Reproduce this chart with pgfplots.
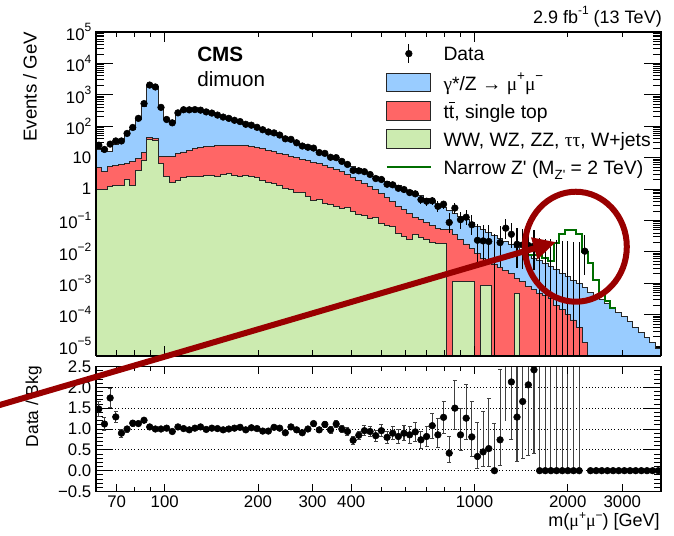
\documentclass[border=0pt]{standalone}
\usepackage{pgfplots}
\pgfplotsset{compat=1.18}
\usepackage{pgfplotstable}
\usetikzlibrary{arrows.meta}
\usepackage{fontspec}
\setmainfont{Liberation Sans}
\newfontfamily\symf{Liberation Serif}

\definecolor{dyblue}{RGB}{153,204,255}
\definecolor{ttred}{RGB}{255,102,102}
\definecolor{ewkgreen}{RGB}{204,235,176}
\definecolor{zpgreen}{RGB}{0,110,0}
\definecolor{annred}{RGB}{153,0,0}

\newcommand\sups[2][9]{\raisebox{0.5em}{\fontsize{#1}{#1}\selectfont #2}}
\newcommand\lsups[1]{\raisebox{0.38em}{\fontsize{9}{9}\selectfont #1}}
\newcommand\subs[2][10]{\raisebox{-0.3em}{\fontsize{#1}{#1}\selectfont #2}}
\newcommand\ttbar{t\makebox[0pt][l]{\raisebox{0.76em}{\rule{0.3em}{0.06em}}}t}
\newcommand\tickfont{\fontsize{12.6}{14}\selectfont}

% stacked levels: G = other, R = other+ttbar, B = total (left bin edges)
\pgfplotstableread{
lo G R B
60.00 1e-7 1e-7 1e-7
60.00 0.955 4.73 18.6
62.57 0.977 3.55 15.85
65.26 1.175 5.25 15.5
68.06 1.318 5.75 26.3
70.98 1.318 6.03 37.2
74.02 2.042 6.31 58.9
77.20 1.318 7.59 79.4
80.51 3.80 9.55 158.5
83.96 8.32 14.1 436.5
87.56 38.0 42.7 1950
91.32 35.5 39.8 1778
95.24 6.46 11.2 398
99.32 2.455 10.5 158.5
103.58 1.622 11.2 134.9
108.03 1.905 13.5 251.2
112.66 2.344 15.1 331.1
117.50 2.512 17.4 338.8
122.54 2.570 19.1 331.1
127.79 2.512 20.9 309.0
133.28 2.630 22.4 288.4
138.99 2.692 23.4 257.0
144.96 2.570 24.5 223.9
151.18 2.818 25.1 199.5
157.66 3.162 25.1 177.8
164.43 2.630 25.1 151.4
171.48 2.570 25.1 134.9
178.84 2.754 24.0 117.5
186.51 2.512 22.4 104.7
194.51 2.291 20.9 91.2
202.86 1.905 19.1 81.3
211.56 1.660 17.4 69.2
220.64 1.514 15.5 58.9
230.10 1.259 13.8 51.3
239.97 1.047 12.3 43.65
250.27 0.933 11.0 36.3
261.01 0.759 9.77 30.2
272.20 0.794 8.91 25.7
283.88 0.562 7.94 21.4
296.06 0.417 7.08 17.8
308.76 0.468 6.31 14.8
322.01 0.355 5.75 12.3
335.82 0.316 4.90 10.47
350.23 0.282 4.17 8.91
365.26 0.240 3.55 7.59
380.93 0.251 2.88 6.46
397.27 0.191 2.40 5.37
414.31 0.158 1.905 4.47
432.09 0.141 1.514 3.72
450.62 0.112 1.175 3.09
469.96 0.126 0.933 2.57
490.12 0.0794 0.708 2.09
511.15 0.0708 0.537 1.778
533.08 0.0631 0.398 1.514
555.95 0.0380 0.282 1.288
579.80 0.0316 0.224 1.072
604.67 0.0251 0.166 0.891
630.61 0.0355 0.126 0.741
657.67 0.0282 0.105 0.603
685.88 0.0251 0.0832 0.490
715.31 0.0200 0.0708 0.398
746.00 0.0186 0.0562 0.316
778.00 0.0186 0.0525 0.257
811.38 1e-7 0.0501 0.209
846.19 0.00112 0.0355 0.166
882.49 0.00112 0.0251 0.132
920.35 0.00112 0.0178 0.105
959.84 0.00112 0.0126 0.0832
1001.02 1e-7 0.00891 0.0661
1043.96 0.00087 0.00631 0.0525
1088.75 0.00087 0.00501 0.0407
1135.46 1e-7 0.00398 0.0331
1184.17 1e-7 0.00316 0.0269
1234.97 1e-7 0.00251 0.0214
1287.95 1e-7 0.00200 0.0170
1343.21 0.000479 0.00141 0.0135
1400.83 1e-7 0.00112 0.0100
1460.93 1e-7 0.000794 0.00776
1523.61 1e-7 0.000631 0.00631
1588.97 1e-7 0.000479 0.00513
1657.14 1e-7 0.000398 0.00417
1728.23 1e-7 0.000316 0.00339
1802.37 1e-7 0.000200 0.00269
1879.70 1e-7 0.000141 0.00209
1960.34 1e-7 0.000100 0.00162
2044.44 1e-7 0.0000676 0.00126
2132.15 1e-7 0.0000398 0.000955
2223.62 1e-7 0.0000126 0.000708
2319.02 1e-7 0.0000025 0.000525
2418.51 1e-7 1e-7 0.000389
2522.26 1e-7 1e-7 0.000295
2630.47 1e-7 1e-7 0.000224
2743.32 1e-7 1e-7 0.000162
2861.01 1e-7 1e-7 0.000117
2983.75 1e-7 1e-7 0.0000851
3111.76 1e-7 1e-7 0.0000589
3245.26 1e-7 1e-7 0.0000398
3384.48 1e-7 1e-7 0.0000269
3529.68 1e-7 1e-7 0.0000186
3681.11 1e-7 1e-7 0.0000126
3839.04 1e-7 1e-7 0.0000085
4003.74 1e-7 1e-7 0.0000085
4003.74 1e-7 1e-7 1e-7
}\histtab

% narrow Z' (stacked on background)
\pgfplotstableread{
lo S
1460.93 0.00776
1523.61 0.00794
1588.97 0.00832
1657.14 0.00631
1728.23 0.00525
1802.37 0.0186
1879.70 0.0380
1960.34 0.0513
2044.44 0.0513
2132.15 0.0380
2223.62 0.0100
2319.02 0.00427
2418.51 0.00126
2522.26 0.000479
2630.47 0.000282
2743.32 0.000162
2861.01 0.000162
}\zptab

% data (events / GeV) with errors
\pgfplotstableread{
lo D dm dp
60.00 24.9 0 0
62.57 18.2 0 0
65.26 26.9 0 0
68.06 33.9 0 0
70.98 33.9 0 0
74.02 58.9 0 0
77.20 91.2 0 0
80.51 177.8 0 0
83.96 524.8 0 0
87.56 2042 0 0
91.32 1778 0 0
95.24 398 0 0
99.32 164 0 0
103.58 128 0 0
108.03 266 0 0
112.66 334.4 0 0
117.50 332.0 0 0
122.54 337.7 0 0
127.79 324.5 0 0
133.28 285.5 0 0
138.99 262.1 0 0
144.96 226.1 0 0
151.18 195.5 0 0
157.66 177.8 0 0
164.43 154.4 0 0
171.48 140.3 0 0
178.84 115.2 0 0
186.51 107.8 0 0
194.51 92.1 0 0
202.86 77.2 0 0
211.56 65.7 0 0
220.64 61.3 0 0
230.10 52.3 0 0
239.97 39.7 0 0
250.27 38.1 0 0
261.01 29.6 0 0
272.20 23.4 0 0
283.88 21.4 0 0
296.06 20.1 0 0
308.76 14.5 0 0
322.01 13.65 0.99 0.99
335.82 10.26 0.844 0.844
350.23 9.98 0.815 0.815
365.26 7.59 0.696 0.696
380.93 6.07 0.609 0.609
397.27 3.92 0.48 0.48
414.31 3.80 0.462 0.462
432.09 3.57 0.438 0.438
450.62 2.90 0.387 0.387
469.96 2.16 0.327 0.327
490.12 2.01 0.309 0.309
511.15 1.42 0.254 0.254
533.08 1.363 0.243 0.243
555.95 1.056 0.21 0.21
579.80 0.965 0.197 0.197
604.67 0.772 0.173 0.173
630.61 0.702 0.161 0.161
657.67 0.461 0.128 0.128
685.88 0.408 0.118 0.118
715.31 0.423 0.118 0.118
746.00 0.281 0.0947 0.127
778.00 0.329 0.0993 0.0993
811.38 0.0862 0.0469 0.0838
846.19 0.248 0.0835 0.1118
882.49 0.1055 0.0505 0.0835
920.35 0.1266 0.0547 0.0856
959.84 0.0728 0.0396 0.0708
1001.02 0.0233 0.0193 0.0536
1043.96 0.0223 0.01846 0.0513
1088.75 0.0214 0.0177 0.0493
1184.17 0.01969 0.01628 0.0453
1234.97 0.0566 0.0308 0.0551
1287.95 0.0362 0.02338 0.04775
1343.21 0.01736 0.01436 0.0399
1400.83 0.01664 0.01376 0.0383
1460.93 0.01595 0.01319 0.0367
1523.61 0.01529 0.01265 0.0352
2223.62 0.01048 0.00867 0.0241
}\datatab

% empty bins: upper error only
\pgfplotstableread{
lo y top
1135.46 1e-7 0.0378
1588.97 1e-7 0.0270
1657.14 1e-7 0.0259
1728.23 1e-7 0.0248
1802.37 1e-7 0.0238
1879.70 1e-7 0.0228
1960.34 1e-7 0.0219
2044.44 1e-7 0.0210
2132.15 1e-7 0.0201
}\zerotab

% ratio data / background
\pgfplotstableread{
lo r rm rp
60.00 1.48 0.18 0.18
62.57 1.12 0.16 0.16
65.26 1.745 0.22 0.22
68.06 1.29 0.13 0.13
70.98 0.90 0.09 0.09
74.02 1.0 0.07 0.07
77.20 1.14 0.066 0.066
80.51 1.13 0.04 0.04
83.96 1.21 0.04 0.04
87.56 1.05 0.03 0.03
91.32 1.0 0.03 0.03
95.24 1.0 0.04 0.04
99.32 1.02 0.04 0.04
103.58 0.94 0.04 0.04
108.03 1.05 0.04 0.04
112.66 1.01 0.04 0.04
117.50 0.98 0.04 0.04
122.54 1.02 0.04 0.04
127.79 1.05 0.04 0.04
133.28 0.99 0.04 0.04
138.99 1.02 0.04 0.04
144.96 1.01 0.04 0.04
151.18 0.98 0.04 0.04
157.66 1.0 0.04 0.04
164.43 1.02 0.04 0.04
171.48 1.04 0.04 0.04
178.84 0.98 0.04 0.04
186.51 1.03 0.04 0.04
194.51 1.01 0.04 0.04
202.86 0.95 0.04 0.04
211.56 0.95 0.04 0.04
220.64 1.04 0.04 0.04
230.10 1.02 0.04 0.04
239.97 0.91 0.04 0.04
250.27 1.05 0.05 0.05
261.01 0.98 0.05 0.05
272.20 0.91 0.05 0.05
283.88 1.0 0.05 0.05
296.06 1.13 0.06 0.06
308.76 0.98 0.06 0.06
322.01 1.11 0.08 0.08
335.82 0.98 0.081 0.081
350.23 1.12 0.091 0.091
365.26 1.0 0.092 0.092
380.93 0.94 0.094 0.094
397.27 0.73 0.089 0.089
414.31 0.85 0.103 0.103
432.09 0.96 0.118 0.118
450.62 0.94 0.125 0.125
469.96 0.84 0.127 0.127
490.12 0.96 0.148 0.148
511.15 0.80 0.143 0.143
533.08 0.90 0.16 0.16
555.95 0.82 0.163 0.163
579.80 0.90 0.184 0.184
604.67 0.86 0.194 0.194
630.61 0.93 0.217 0.217
657.67 0.74 0.212 0.212
685.88 0.82 0.241 0.241
715.31 1.08 0.296 0.296
746.00 0.86 0.30 0.40
778.00 1.28 0.386 0.386
811.38 0.42 0.224 0.40
846.19 1.50 0.503 0.673
882.49 0.86 0.383 0.633
920.35 1.26 0.521 0.815
959.84 0.81 0.476 0.851
1001.02 0.34 0.292 0.811
1043.96 0.45 0.352 0.977
1088.75 0.53 0.435 1.21
1135.46 0.0 0 1.14
1184.17 0.74 0.605 1.68
1287.95 2.13 1.375 2.81
1343.21 1.286 1.064 2.96
1400.83 1.66 1.376 3.83
1460.93 2.06 1.70 4.73
1523.61 2.42 2.0 5.58
1588.97 0 0 5
1657.14 0 0 5
1728.23 0 0 5
1802.37 0 0 5
1879.70 0 0 5
1960.34 0 0 5
2044.44 0 0 5
2132.15 0 0 5
2319.02 0 0 0
2418.51 0 0 0
2522.26 0 0 0
2630.47 0 0 0
2743.32 0 0 0
2861.01 0 0 0
2983.75 0 0 0
3111.76 0 0 0
3245.26 0 0 0
3384.48 0 0 0
3529.68 0 0 0
3681.11 0 0 0
3839.04 0 0 0
}\ratiotab

\pgfplotstableread{
lo r rm rp
1234.97 2.64 1.44 2.57
}\ratioextra

\begin{document}
\begin{tikzpicture}
\useasboundingbox (0,0) rectangle (505.5pt,401.25pt);

% ---------------- upper panel ----------------
\begin{axis}[scale only axis, anchor=south west, width=423.75pt,
  at={(72pt,134.625pt)}, height=242.625pt,
  xmode=log, xmin=60, xmax=4000,
  ymode=log, ymin=5e-6, ymax=1e5,
  axis line style={line width=0.9pt, black},
  tick align=inside, tick style={black, line width=0.6pt},
  ticklabel style={font=\tickfont},
  major tick length=12.75pt, minor tick length=6pt,
  xtick=\empty,
  ytick={1e-5,1e-4,1e-3,1e-2,1e-1,1,10,100,1e3,1e4,1e5},
  yticklabels={10\sups{−5},10\sups{−4},10\sups{−3},10\sups{−2},10\sups{−1},1,10,10\sups{2},10\sups{3},10\sups{4},10\sups{5}},
  minor ytick={6e-6,7e-6,8e-6,9e-6,
    2e-5,3e-5,4e-5,5e-5,6e-5,7e-5,8e-5,9e-5,
    2e-4,3e-4,4e-4,5e-4,6e-4,7e-4,8e-4,9e-4,
    2e-3,3e-3,4e-3,5e-3,6e-3,7e-3,8e-3,9e-3,
    0.02,0.03,0.04,0.05,0.06,0.07,0.08,0.09,
    0.2,0.3,0.4,0.5,0.6,0.7,0.8,0.9,
    2,3,4,5,6,7,8,9,
    20,30,40,50,60,70,80,90,
    200,300,400,500,600,700,800,900,
    2000,3000,4000,5000,6000,7000,8000,9000,
    2e4,3e4,4e4,5e4,6e4,7e4,8e4,9e4},
  legend cell align=left,
  legend style={at={(axis description cs:0.513,0.969)}, anchor=north west,
    draw=none, fill=none, inner sep=0pt, outer sep=0pt,
    font=\fontsize{14.5}{17}\selectfont, row sep=3.6pt,
    /tikz/every odd column/.style={column sep=6.75pt}},
]
\addlegendimage{legend image code/.code={\draw[black,line width=0.8pt] (16.5pt,-7pt) -- (16.5pt,7pt); \fill[black] (16.5pt,0pt) circle (2.5pt);}}
\addlegendentry{\strut Data}
\addlegendimage{legend image code/.code={\draw[fill=dyblue,draw=black!85,line width=0.6pt] (0pt,-7pt) rectangle (33pt,7pt);}}
\addlegendentry{\strut{\symf γ}*/Z {\symf →} {\symf μ}\sups[10]{+}{\symf μ}\sups[10]{−}}
\addlegendimage{legend image code/.code={\draw[fill=ttred,draw=black!85,line width=0.6pt] (0pt,-7pt) rectangle (33pt,7pt);}}
\addlegendentry{\strut\ttbar, single top}
\addlegendimage{legend image code/.code={\draw[fill=ewkgreen,draw=black!85,line width=0.6pt] (0pt,-7pt) rectangle (33pt,7pt);}}
\addlegendentry{\strut WW, WZ, ZZ, {\symf ττ}, W+jets}
\addlegendimage{legend image code/.code={\draw[zpgreen,line width=1.5pt] (0pt,0pt) -- (33pt,0pt);}}
\addlegendentry{\strut Narrow Z\textquotesingle{} (M\subs{Z\textquotesingle} = 2 TeV)}

\addplot[forget plot, const plot, fill=dyblue, draw=black!85, line width=0.7pt] table[x=lo,y=B]{\histtab};
\addplot[forget plot, const plot, fill=ttred, draw=black!85, line width=0.7pt] table[x=lo,y=R]{\histtab};
\addplot[forget plot, const plot, fill=ewkgreen, draw=black!85, line width=0.7pt] table[x=lo,y=G]{\histtab};
\addplot[forget plot, const plot, zpgreen, line width=1.5pt] table[x=lo,y=S]{\zptab};

\addplot[forget plot, only marks, mark=none,
  error bars/.cd, y dir=plus, y explicit, error mark=none,
  error bar style={line width=0.8pt, black}]
  table[x expr=\thisrow{lo}*1.02122, y=y, y error plus=top]{\zerotab};
\addplot[forget plot, only marks, mark=*, mark size=2.5pt, black,
  error bars/.cd, y dir=both, y explicit, error mark=none,
  error bar style={line width=0.8pt, black}]
  table[x expr=\thisrow{lo}*1.02122, y=D, y error minus=dm, y error plus=dp]{\datatab};
\end{axis}

% x ticks of the upper panel
\begin{axis}[scale only axis, anchor=south west, width=423.75pt,
  at={(72pt,134.625pt)}, height=242.625pt,
  xmode=log, xmin=60, xmax=4000,
  ymode=log, ymin=5e-6, ymax=1e5, ytick=\empty,
  axis line style={line width=0.9pt, black},
  tick align=inside, tick style={black, line width=0.6pt},
  major tick length=7.5pt, minor tick length=4pt,
  xtick={100,1000}, xticklabels={},
  minor xtick={60,70,80,90,200,300,400,500,600,700,800,900,2000,3000,4000}]
\addplot[draw=none] coordinates {(100,1)};
\end{axis}
\draw[line width=2pt] (72pt,134.2pt) -- (495.75pt,134.2pt);

% ---------------- ratio panel ----------------
\begin{axis}[scale only axis, anchor=south west, width=423.75pt,
  at={(72pt,32.625pt)}, height=93.75pt,
  xmode=log, xmin=60, xmax=4000,
  ymin=-0.5, ymax=2.5,
  axis line style={line width=0.9pt, black},
  tick align=inside, tick style={black, line width=0.6pt},
  ticklabel style={font=\tickfont},
  major tick length=12.75pt, minor tick length=5.5pt,
  xtick=\empty,
  ytick={-0.5,0,0.5,1,1.5,2,2.5},
  yticklabels={−0.5,0.0,0.5,1.0,1.5,2.0,2.5},
  minor y tick num=4,
  ymajorgrids, grid style={dotted, line width=0.7pt, black},
]
\addplot[only marks, mark=none,
  error bars/.cd, y dir=both, y explicit, error mark=none,
  error bar style={line width=0.8pt, black!75}]
  table[x expr=\thisrow{lo}*1.02122, y=r, y error minus=rm, y error plus=rp]{\ratioextra};
\addplot[only marks, mark=*, mark size=2.5pt, black,
  error bars/.cd, y dir=both, y explicit,
  error mark options={rotate=90, mark size=1.5pt, line width=0.6pt},
  error bar style={line width=0.8pt, black!75}]
  table[x expr=\thisrow{lo}*1.02122, y=r, y error minus=rm, y error plus=rp]{\ratiotab};
\end{axis}

\begin{axis}[scale only axis, anchor=south west, width=423.75pt,
  at={(72pt,32.625pt)}, height=93.75pt,
  xmode=log, xmin=60, xmax=4000,
  ymin=-0.5, ymax=2.5, ytick=\empty,
  axis line style={line width=0.9pt, black},
  tick align=inside, tick style={black, line width=0.6pt},
  ticklabel style={font=\tickfont},
  major tick length=6pt, minor tick length=3.5pt,
  xtick={70,100,200,300,400,1000,2000,3000},
  xticklabels={70,100,200,300,400,1000,2000,3000},
  minor xtick={60,80,90,500,600,700,800,900,4000}]
\addplot[draw=none] coordinates {(100,1)};
\end{axis}

% ---------------- texts ----------------
\node[anchor=base east, inner sep=0pt, font=\fontsize{13.5}{15}\selectfont] at (496.5pt,383.75pt) {2.9 fb\sups{-1} (13 TeV)};
\node[anchor=base west, inner sep=0pt, font=\fontsize{15.5}{17}\selectfont\bfseries] at (147.75pt,355pt) {CMS};
\node[anchor=base west, inner sep=0pt, font=\fontsize{15.5}{17}\selectfont] at (147.75pt,336.2pt) {dimuon};
\node[rotate=90, anchor=base, inner sep=0pt, font=\fontsize{14}{16}\selectfont] at (27.5pt,336.2pt) {Events / GeV};
\node[rotate=90, anchor=base, inner sep=0pt, font=\fontsize{13}{15}\selectfont] at (28.5pt,96.25pt) {Data / Bkg};
\node[anchor=base east, inner sep=0pt, font=\fontsize{13.5}{15}\selectfont] at (495pt,6.5pt) {m({\symf μ}\lsups{+}{\symf μ}\lsups{−}) [GeV]};

% ---------------- annotation ----------------
\draw[annred, line width=4.5pt] (431.85pt,216.2pt) ellipse [x radius=38.25pt, y radius=41.25pt];
\draw[annred, line width=4.5pt, -{Triangle[length=17pt, width=16pt]}] (-8pt,95.2pt) -- (417pt,219.75pt);
\end{tikzpicture}
\end{document}
